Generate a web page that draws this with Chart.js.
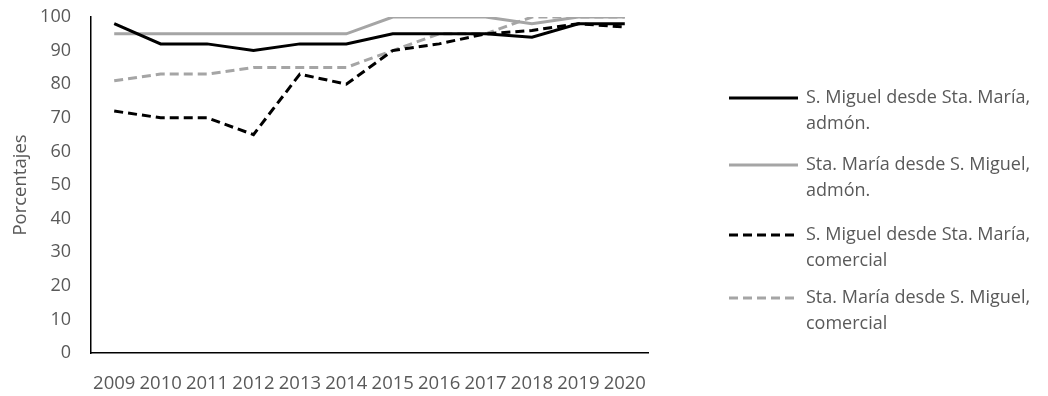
<!DOCTYPE html>
<html>
<head>
<meta charset="utf-8">
<script src="https://cdn.jsdelivr.net/npm/chart.js@4"></script>
<style>
  html, body { margin: 0; padding: 0; background: #fff; }
  canvas { display: block; }
</style>
</head>
<body>
<canvas id="chart" width="1048" height="396"></canvas>
<script>
const years = ['2009', '2010', '2011', '2012', '2013', '2014', '2015', '2016', '2017', '2018', '2019', '2020'];
const smAdmon = [98, 92, 92, 90, 92, 92, 95, 95, 95, 94, 98, 98];
const stmAdmon = [95, 95, 95, 95, 95, 95, 100, 100, 100, 98, 100, 100];
const smComercial = [72, 70, 70, 65, 83, 80, 90, 92, 95, 96, 98, 97];
const stmComercial = [81, 83, 83, 85, 85, 85, 90, 95, 95, 100, 100, 100];
const yTicks = [0, 10, 20, 30, 40, 50, 60, 70, 80, 90, 100];

const FONT = '"Open Sans", sans-serif';
const TEXT = '#595959';
const GREY = '#A5A5A5';

// legend drawn by hand, two lines per label like the original
const sideLegend = {
    id: 'sideLegend',
    afterDraw(chart) {
        const ctx = chart.ctx;
        const rows = [98, 165, 235, 298];
        ctx.save();
        ctx.font = '18px ' + FONT;
        ctx.fillStyle = TEXT;
        ctx.textBaseline = 'middle';
        chart.data.datasets.forEach((ds, i) => {
            const y = rows[i];
            ctx.beginPath();
            ctx.strokeStyle = ds.borderColor;
            ctx.lineWidth = ds.borderWidth;
            ctx.setLineDash(ds.borderDash || []);
            ctx.moveTo(729, y);
            ctx.lineTo(798, y);
            ctx.stroke();
            ds.label.forEach((line, j) => {
                ctx.fillText(line, 806, y + j * 26);
            });
        });
        ctx.restore();
    }
};

new Chart(document.getElementById('chart'), {
    type: 'line',
    data: {
        labels: years,
        datasets: [{
            label: ['S. Miguel desde Sta. María,', 'admón.'],
            data: smAdmon,
            borderColor: '#000000',
            borderWidth: 3
        }, {
            label: ['Sta. María desde S. Miguel,', 'admón.'],
            data: stmAdmon,
            borderColor: GREY,
            borderWidth: 3
        }, {
            label: ['S. Miguel desde Sta. María,', 'comercial'],
            data: smComercial,
            borderColor: '#000000',
            borderWidth: 3,
            borderDash: [9, 5]
        }, {
            label: ['Sta. María desde S. Miguel,', 'comercial'],
            data: stmComercial,
            borderColor: GREY,
            borderWidth: 3,
            borderDash: [9, 5]
        }]
    },
    options: {
        responsive: false,
        animation: false,
        elements: { point: { radius: 0 }, line: { tension: 0, borderCapStyle: 'butt' } },
        layout: { padding: { top: 17, right: 400, bottom: 0, left: 0 } },
        plugins: { legend: { display: false }, tooltip: { enabled: false } },
        scales: {
            x: {
                offset: true,
                grid: { display: false, drawTicks: false },
                border: { display: true, color: '#000', width: 1.5 },
                ticks: { color: TEXT, font: { family: FONT, size: 18.5 }, padding: 20, maxRotation: 0, autoSkip: false },
                afterFit(scale) { scale.height = 43; scale.paddingLeft = 0; scale.paddingRight = 0; }
            },
            y: {
                min: 0,
                max: 100,
                afterBuildTicks(scale) { scale.ticks = yTicks.map(v => ({ value: v })); },
                grid: { display: false, drawTicks: false },
                border: { display: true, color: '#000', width: 1.5 },
                ticks: { color: TEXT, font: { family: FONT, size: 18 }, padding: 20 },
                title: { display: true, text: 'Porcentajes', color: TEXT, font: { family: FONT, size: 18.5 }, padding: { top: 10, bottom: 0 } },
                afterFit(scale) { scale.width = 91; scale.paddingTop = 0; scale.paddingBottom = 0; }
            }
        }
    },
    plugins: [sideLegend]
});
</script>
</body>
</html>
